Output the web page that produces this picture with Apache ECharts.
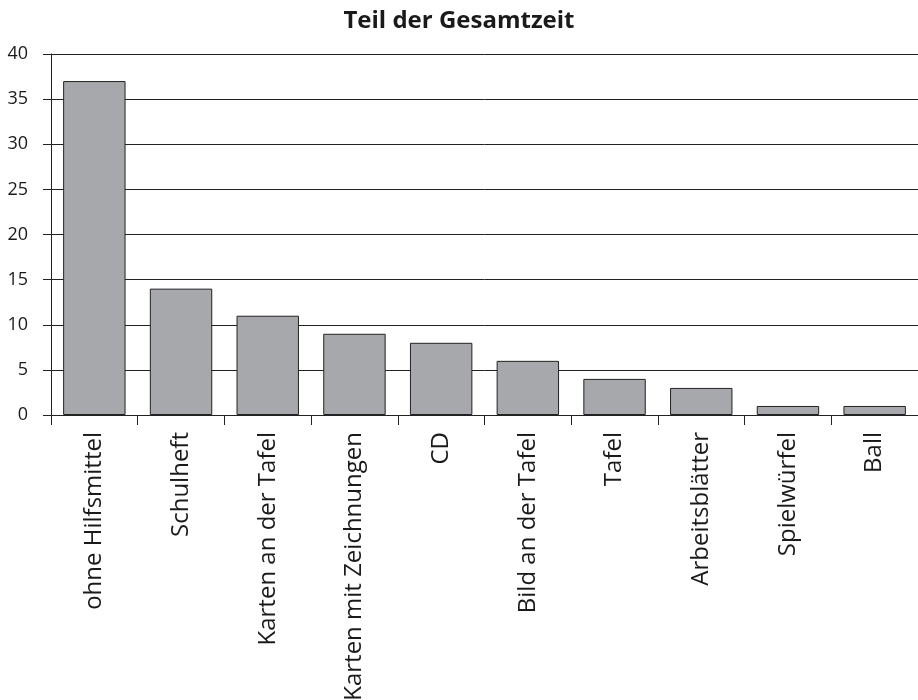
<!DOCTYPE html>
<html>
<head>
<meta charset="utf-8">
<script src="https://cdn.jsdelivr.net/npm/echarts@6/dist/echarts.min.js"></script>
<style>
  html, body { margin: 0; padding: 0; background: #fff; }
  #chart { width: 918px; height: 700px; }
</style>
</head>
<body>
<div id="chart"></div>
<script>
// Share of total time per teaching aid
const categories = ['ohne Hilfsmittel', 'Schulheft', 'Karten an der Tafel', 'Karten mit Zeichnungen', 'CD', 'Bild an der Tafel', 'Tafel', 'Arbeitsblätter', 'Spielwürfel', 'Ball'];
const values = [37, 14, 11, 9, 8, 6, 4, 3, 1, 1];
const yTicks = { min: 0, max: 40, interval: 5 };

const font = '"Open Sans", "Noto Sans", sans-serif';
const chart = echarts.init(document.getElementById('chart'));
chart.setOption({
  animation: false,
  backgroundColor: '#fff',
  title: {
    text: 'Teil der Gesamtzeit',
    left: 'center',
    top: 4,
    textStyle: { fontFamily: font, fontWeight: 'bold', fontSize: 24, color: '#1a1a1a' }
  },
  grid: { left: 51, right: 0, top: 54, bottom: 285, containLabel: false, outerBoundsMode: 'none' },
  xAxis: {
    type: 'category',
    data: categories,
    axisLine: { lineStyle: { color: '#222', width: 1 } },
    axisTick: { show: true, length: 10, alignWithLabel: false, lineStyle: { color: '#222' } },
    axisLabel: { rotate: 90, interval: 0, margin: 17, color: '#1a1a1a', fontFamily: font, fontSize: 24 },
    splitLine: { show: false }
  },
  yAxis: {
    type: 'value',
    min: yTicks.min,
    max: yTicks.max,
    interval: yTicks.interval,
    axisLine: { show: true, lineStyle: { color: '#222', width: 1 } },
    axisTick: { show: true, inside: false, length: 8, lineStyle: { color: '#222' } },
    axisLabel: { color: '#1a1a1a', fontFamily: font, fontSize: 18, margin: 23 },
    splitLine: { show: true, lineStyle: { color: '#222', width: 1 } }
  },
  series: [{
    type: 'bar',
    data: values,
    barWidth: '72%',
    itemStyle: { color: '#a7a8ab', borderColor: '#222', borderWidth: 1 }
  }]
});
</script>
</body>
</html>
